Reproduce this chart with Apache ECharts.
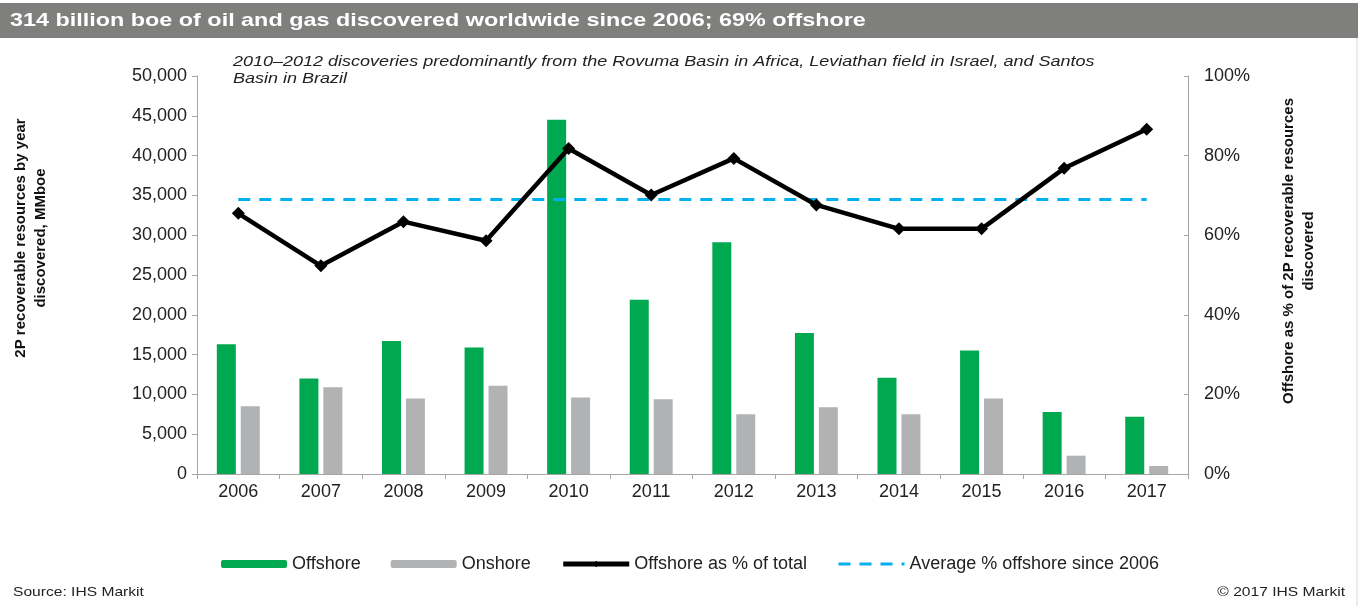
<!DOCTYPE html>
<html>
<head>
<meta charset="utf-8">
<script src="https://cdn.jsdelivr.net/npm/echarts@6/dist/echarts.min.js"></script>
<style>
html,body{margin:0;padding:0;background:#fff;}
#chart{width:1358px;height:606px;}
</style>
</head>
<body>
<div id="chart"></div>
<script>
const years = ['2006','2007','2008','2009','2010','2011','2012','2013','2014','2015','2016','2017'];
const offshore = [16300, 12000, 16700, 15900, 44500, 21900, 29100, 17700, 12100, 15500, 7800, 7200];
const onshore = [8500, 10900, 9500, 11100, 9600, 9400, 7500, 8400, 7500, 9500, 2300, 1000];
const offshorePct = [65.5, 52.3, 63.4, 58.6, 81.8, 70.1, 79.3, 67.6, 61.6, 61.6, 76.8, 86.6];
const averagePct = 69;
const averageLine = years.map(() => averagePct);

const FONT = 'Liberation Sans, Arial, sans-serif';
const SX = 1.2;
const chart = echarts.init(document.getElementById('chart'));
chart.setOption({
  animation: false,
  backgroundColor: '#ffffff',
  textStyle: { fontFamily: FONT },
  grid: { left: 197, right: 170, top: 76, bottom: 132, containLabel: false },
  legend: {
    left: 216, top: 550,
    itemWidth: 66, itemHeight: 8, itemGap: 30,
    textStyle: { fontSize: 18, color: '#222', fontFamily: FONT },
    data: [
      'Offshore',
      'Onshore',
      { name: 'Offshore as % of total', lineStyle: { width: 5 } },
      { name: 'Average % offshore since 2006', itemStyle: { opacity: 0 }, lineStyle: { width: 3 } }
    ]
  },
  xAxis: {
    type: 'category', data: years,
    axisLine: { lineStyle: { color: '#a6a6a6', width: 1 } },
    axisTick: { show: true, length: 5, lineStyle: { color: '#a6a6a6' } },
    axisLabel: { fontSize: 18, color: '#222', margin: 9, fontFamily: FONT },
    splitLine: { show: false }
  },
  yAxis: [
    {
      type: 'value', min: 0, max: 50000, interval: 5000,
      axisLine: { show: true, lineStyle: { color: '#a6a6a6' } },
      axisTick: { show: true, length: 5, lineStyle: { color: '#a6a6a6' } },
      axisLabel: { fontSize: 18, color: '#222', margin: 10, fontFamily: FONT,
        formatter: v => v.toLocaleString('en-US') },
      splitLine: { show: false }
    },
    {
      type: 'value', min: 0, max: 100, interval: 20, position: 'right',
      axisLine: { show: true, lineStyle: { color: '#a6a6a6' } },
      axisTick: { show: true, inside: true, length: 4, lineStyle: { color: '#a6a6a6' } },
      axisLabel: { fontSize: 18, color: '#222', margin: 16, fontFamily: FONT, formatter: '{value}%' },
      splitLine: { show: false }
    }
  ],
  series: [
    { name: 'Offshore', type: 'bar', data: offshore, barWidth: 19, barGap: '26%',
      itemStyle: { color: '#00a84f' } },
    { name: 'Onshore', type: 'bar', data: onshore, barWidth: 19,
      itemStyle: { color: '#b1b2b4' } },
    { name: 'Average % offshore since 2006', type: 'line', yAxisIndex: 1, data: averageLine,
      symbol: 'none', lineStyle: { color: '#00b0f0', width: 3, type: [12, 9] },
      itemStyle: { color: '#00b0f0' }, z: 3 },
    { name: 'Offshore as % of total', type: 'line', yAxisIndex: 1, data: offshorePct,
      symbol: 'diamond', symbolSize: 13, showAllSymbol: true,
      lineStyle: { color: '#000', width: 4.5 }, itemStyle: { color: '#000' }, z: 4 }
  ],
  graphic: [
    { type: 'rect', shape: { x: 0, y: 3, width: 1358, height: 35 }, style: { fill: '#7f807e' }, silent: true },
    { type: 'text', x: 10, y: 21, scaleX: 1.23, style: { text: '314 billion boe of oil and gas discovered worldwide since 2006; 69% offshore',
      fill: '#fff', font: 'bold 19px ' + FONT, textVerticalAlign: 'middle' } },
    { type: 'line', shape: { x1: 1357, y1: 38, x2: 1357, y2: 606 }, style: { stroke: '#d9d9d9', lineWidth: 1 } },
    { type: 'text', x: 233, y: 53, scaleX: SX, style: { text: '2010–2012 discoveries predominantly from the Rovuma Basin in Africa, Leviathan field in Israel, and Santos\nBasin in Brazil',
      fill: '#222', font: 'italic 15px ' + FONT, lineHeight: 17 } },
    { type: 'text', x: 31, y: 238, rotation: Math.PI / 2,
      style: { text: '2P recoverable resources by year\ndiscovered, MMboe', fill: '#111', font: 'bold 15px ' + FONT,
        textAlign: 'center', textVerticalAlign: 'middle', lineHeight: 20 } },
    { type: 'text', x: 1299, y: 251, rotation: Math.PI / 2,
      style: { text: 'Offshore as % of 2P recoverable resources\ndiscovered', fill: '#111', font: 'bold 15px ' + FONT,
        textAlign: 'center', textVerticalAlign: 'middle', lineHeight: 20 } },
    { type: 'text', x: 13, y: 592, scaleX: SX, style: { text: 'Source: IHS Markit', fill: '#222', font: '13px ' + FONT, textVerticalAlign: 'middle' } },
    { type: 'text', x: 1345, y: 592, scaleX: SX, style: { text: '© 2017 IHS Markit', fill: '#222', font: '13px ' + FONT, textAlign: 'right', textVerticalAlign: 'middle' } }
  ]
});
</script>
</body>
</html>
